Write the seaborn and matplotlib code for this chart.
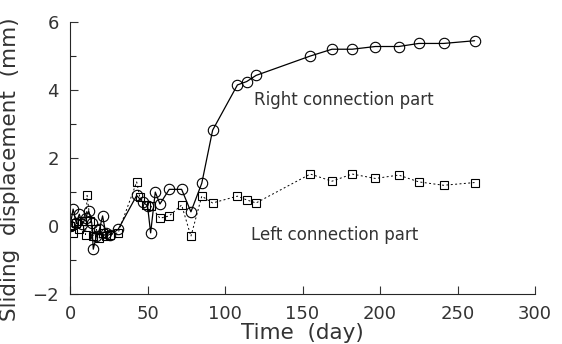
import seaborn as sns
import pandas as pd
import matplotlib.pyplot as plt
from matplotlib.ticker import MultipleLocator

# right connection part (circles, solid)
right_day = [0, 2, 4, 6, 8, 10, 12, 14, 15, 17, 19, 21, 23, 26, 31,
             43, 47, 50, 52, 55, 58, 64, 72, 78, 85, 92,
             108, 114, 120, 155, 169, 182, 197, 212, 225, 241, 261]
right_disp = [0.0, 0.5, 0.1, 0.35, 0.05, 0.25, 0.45, 0.1, -0.68, -0.3, -0.1, 0.3, -0.2, -0.25, -0.1,
              0.9, 0.7, 0.6, -0.2, 1.0, 0.65, 1.08, 1.08, 0.42, 1.26, 2.82,
              4.15, 4.25, 4.43, 5.0, 5.2, 5.2, 5.28, 5.28, 5.37, 5.37, 5.45]

# left connection part (squares, dashed)
left_day = [0, 2, 4, 6, 8, 10, 11, 13, 15, 17, 19, 21, 23, 26, 31,
            43, 45, 49, 52, 58, 64, 72, 78, 85, 92,
            108, 114, 120, 155, 169, 182, 197, 212, 225, 241, 261]
left_disp = [0.0, -0.2, 0.1, -0.1, 0.15, -0.25, 0.9, 0.15, -0.3, -0.1, -0.35, -0.2, -0.3, -0.25, -0.2,
             1.3, 0.85, 0.62, 0.6, 0.23, 0.3, 0.62, -0.3, 0.88, 0.68,
             0.88, 0.77, 0.68, 1.53, 1.32, 1.53, 1.4, 1.5, 1.3, 1.2, 1.28]

df_right = pd.DataFrame({'day': right_day, 'disp': right_disp})
df_left = pd.DataFrame({'day': left_day, 'disp': left_disp})

sns.set_style('ticks')
plt.rcParams['font.family'] = ['DejaVu Sans']

fig = plt.figure(figsize=(5.62, 3.44), dpi=100)
ax = fig.add_axes([0.1246, 0.145, 0.8274, 0.791])

sns.lineplot(data=df_right, x='day', y='disp', ax=ax, estimator=None, sort=False,
             color='black', lw=0.9, marker='o', ms=7.5, markerfacecolor='none',
             markeredgecolor='black', markeredgewidth=0.8)
sns.lineplot(data=df_left, x='day', y='disp', ax=ax, estimator=None, sort=False,
             color='black', lw=0.7, ls=(0, (2, 2.5)), marker='s', ms=5.5, markerfacecolor='none',
             markeredgecolor='black', markeredgewidth=0.8)

ax.text(119, 3.7, 'Right connection part', fontsize=12, va='center', color='#333333')
ax.text(117, -0.26, 'Left connection part', fontsize=12, va='center', color='#333333')

ax.set_xlim(0, 300)
ax.set_ylim(-2, 6)
ax.xaxis.set_major_locator(MultipleLocator(50))
ax.yaxis.set_major_locator(MultipleLocator(2))
ax.yaxis.set_minor_locator(MultipleLocator(1))
ax.tick_params(direction='in', which='major', length=6, width=0.8, labelsize=13, pad=8, colors='#333333')
ax.tick_params(direction='in', which='minor', length=4, width=0.8)
sns.despine(ax=ax)
for s in ['left', 'bottom']:
    ax.spines[s].set_linewidth(0.8)
ax.set_xlabel('Time  (day)', fontsize=15.5, labelpad=0, color='#333333')
ax.set_ylabel('Sliding  displacement  (mm)', fontsize=15.5, color='#333333')
ax.yaxis.set_label_coords(-0.108, 0.46)

fig.savefig('out.png', dpi=100)
